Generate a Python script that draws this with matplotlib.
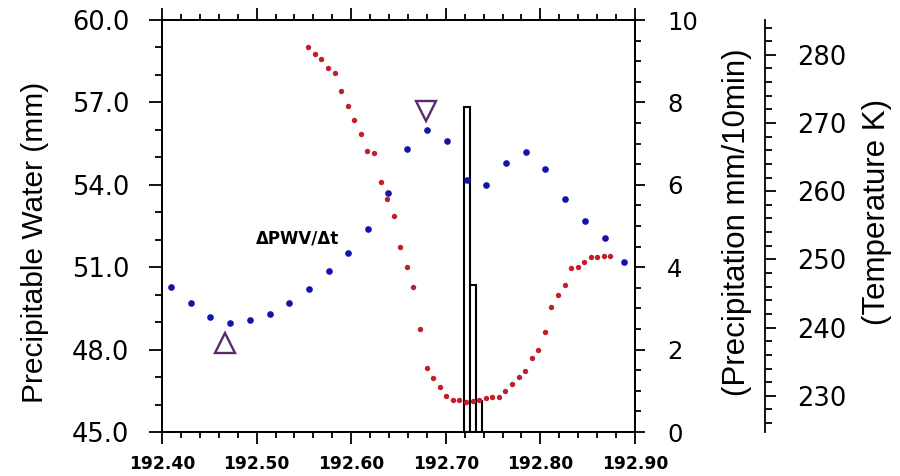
import matplotlib
matplotlib.use("Agg")
import matplotlib.pyplot as plt
from matplotlib.ticker import MultipleLocator, FormatStrFormatter

# Precipitable water vapour (mm), 30-minute samples, day of year
pwv_time = [192.4095, 192.4303, 192.4512, 192.4720, 192.4928, 192.5137,
            192.5345, 192.5553, 192.5762, 192.5970, 192.6178, 192.6387,
            192.6595, 192.6803, 192.7012, 192.7220, 192.7428, 192.7637,
            192.7845, 192.8053, 192.8262, 192.8470, 192.8678, 192.8887]
pwv_mm = [50.29, 49.69, 49.18, 48.98, 49.08, 49.28, 49.69, 50.19, 50.87,
          51.51, 52.38, 53.69, 55.29, 55.99, 55.58, 54.17, 53.98, 54.78,
          55.18, 54.57, 53.47, 52.68, 52.05, 51.19]

# Brightness temperature (K), 10-minute samples
temp_time = [192.5547, 192.5616, 192.5686, 192.5755, 192.5825, 192.5894,
             192.5964, 192.6033, 192.6103, 192.6172, 192.6241, 192.6311,
             192.6380, 192.6450, 192.6519, 192.6589, 192.6658, 192.6728,
             192.6797, 192.6866, 192.6936, 192.7005, 192.7075, 192.7144,
             192.7214, 192.7283, 192.7353, 192.7422, 192.7491, 192.7561,
             192.7630, 192.7700, 192.7769, 192.7839, 192.7908, 192.7978,
             192.8047, 192.8116, 192.8186, 192.8255, 192.8325, 192.8394,
             192.8464, 192.8533, 192.8603, 192.8672, 192.8741]
temp_k = [281.13, 280.10, 279.37, 278.05, 277.32, 274.62, 272.42, 270.37,
          268.42, 265.92, 265.67, 261.33, 258.84, 256.39, 251.89, 248.96,
          245.94, 239.78, 234.15, 232.68, 231.36, 230.00, 229.41, 229.37,
          229.12, 229.22, 229.41, 229.71, 229.81, 229.85, 230.73, 231.76,
          232.83, 233.71, 235.62, 236.74, 239.43, 243.01, 244.81, 246.28,
          248.72, 248.96, 249.55, 250.34, 250.34, 250.57, 250.57]

# Rain gauge, mm per 10 minutes
rain_time = [192.7221, 192.7288, 192.7353]
rain_mm = [7.88, 3.57, 0.75]

# Onset / peak markers of the PWV change
rise_marker = (192.4666, 48.24)
peak_marker = (192.679, 56.69)

x_ticks = [192.40, 192.50, 192.60, 192.70, 192.80, 192.90]

plt.rcParams["font.family"] = ["DejaVu Sans"]

fig = plt.figure(figsize=(9.0, 4.76), dpi=100)
W, H = 900.0, 476.0
ax_l, ax_r, ax_t, ax_b = 162, 635, 20, 432
ax = fig.add_axes([ax_l / W, 1 - ax_b / H, (ax_r - ax_l) / W, (ax_b - ax_t) / H])
ax2 = ax.twinx()
ax3 = ax.twinx()

# layering: bars underneath, then PWV, then temperature
ax2.set_zorder(1)
ax.set_zorder(2)
ax3.set_zorder(3)
ax.patch.set_visible(False)
ax3.patch.set_visible(False)

lw = 1.3

# --- precipitation bars ---
ax2.bar(rain_time, rain_mm, width=0.0067, facecolor="white",
        edgecolor="black", linewidth=1.5)
ax2.set_ylim(0, 10)

# --- precipitable water ---
ax.plot(pwv_time, pwv_mm, linestyle="none", marker="o", markersize=4.8,
        color="#1414a8", markeredgewidth=0)
ax.plot([rise_marker[0]], [rise_marker[1]], marker="^", markersize=15,
        markerfacecolor="none", markeredgecolor="#5a2a6a", markeredgewidth=1.7,
        linestyle="none")
ax.plot([peak_marker[0]], [peak_marker[1]], marker="v", markersize=15,
        markerfacecolor="none", markeredgecolor="#5a2a6a", markeredgewidth=1.7,
        linestyle="none")
ax.text(192.5432, 52.05, "ΔPWV/Δt", fontsize=12, fontweight="bold",
        ha="center", va="center")

ax.set_xlim(192.40, 192.90)
ax.set_ylim(45.0, 60.0)

# --- temperature ---
ax3.plot(temp_time, temp_k, linestyle="none", marker="o", markersize=3.9,
         color="#c41e2c", markeredgewidth=0)
ax3.set_ylim(224.7, 285.1)

# --- axes styling ---
for a in (ax, ax2, ax3):
    for s in a.spines.values():
        s.set_linewidth(lw)

ax.set_xticks(x_ticks)
ax.xaxis.set_major_formatter(FormatStrFormatter("%.2f"))
ax.xaxis.set_minor_locator(MultipleLocator(0.02))
ax.yaxis.set_major_locator(MultipleLocator(3.0))
ax.yaxis.set_minor_locator(MultipleLocator(1.0))
ax.yaxis.set_major_formatter(FormatStrFormatter("%.1f"))
ax.tick_params(axis="x", which="major", direction="out", length=8.4, width=lw,
               top=True, labelsize=12.3, pad=8)
ax.tick_params(axis="x", which="minor", direction="out", length=4.3, width=lw,
               top=True)
for lab in ax.get_xticklabels():
    lab.set_fontweight("bold")
ax.tick_params(axis="y", which="major", direction="out", length=9.4, width=lw,
               labelsize=18.5, pad=14)
ax.tick_params(axis="y", which="minor", direction="out", length=5.0, width=lw)
ax.tick_params(axis="y", right=False, which="both")

ax2.yaxis.set_major_locator(MultipleLocator(2))
ax2.yaxis.set_minor_locator(MultipleLocator(0.5))
ax2.tick_params(axis="y", which="major", direction="out", length=7.2, width=lw,
                labelsize=17.5, pad=16)
ax2.tick_params(axis="y", which="minor", direction="out", length=4.3, width=lw)

ax3.spines["right"].set_position(("axes", (765 - ax_l) / (ax_r - ax_l)))
for s in ("top", "bottom", "left"):
    ax3.spines[s].set_visible(False)
ax3.yaxis.set_major_locator(MultipleLocator(10))
ax3.yaxis.set_minor_locator(MultipleLocator(2))
ax3.tick_params(axis="y", which="major", direction="out", length=8.0, width=lw,
                labelsize=18.5, pad=15)
ax3.tick_params(axis="y", which="minor", direction="out", length=5.0, width=lw)

# --- axis titles ---
lab_font = ["Liberation Sans", "DejaVu Sans"]
fig.text(35 / W, 1 - 242 / H, "Precipitable Water (mm)", rotation=90,
         ha="center", va="center", fontsize=21.5, family=lab_font)
fig.text(737 / W, 1 - 222 / H, "(Precipitation mm/10min)", rotation=90,
         ha="center", va="center", fontsize=22.5, family=lab_font)
fig.text(877 / W, 1 - 212 / H, "(Temperature K)", rotation=90,
         ha="center", va="center", fontsize=22.5, family=lab_font)

fig.savefig("out.png", dpi=100)
